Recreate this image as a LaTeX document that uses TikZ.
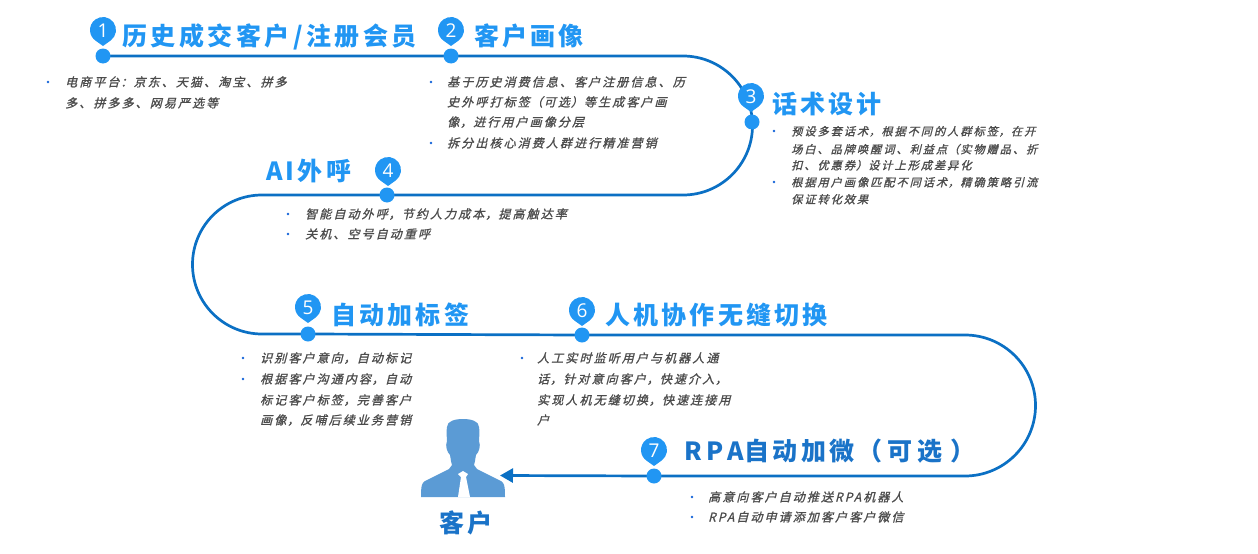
\documentclass[tikz,border=0pt]{standalone}
\usepackage{fontspec}
\usetikzlibrary{arrows.meta}
\newfontfamily\ttlfont{Noto Sans CJK SC}[LetterSpace=13]
\newfontfamily\ttlwide{Noto Sans CJK SC}[LetterSpace=14]
\newfontfamily\ttlrpa{Noto Sans CJK SC}[LetterSpace=20]
\newfontfamily\bodyfont{Noto Sans CJK SC}[FakeSlant=0.25,FakeBold=1.2,LetterSpace=17.5]
\newfontfamily\digitfont{Open Sans}
\definecolor{pathblue}{HTML}{0B70C4}
\definecolor{pinblue}{HTML}{2196F3}
\definecolor{darkttl}{HTML}{1A73C8}
\definecolor{bodygray}{HTML}{4C4C4C}
\definecolor{bulletblue}{HTML}{1565D8}
\definecolor{personblue}{HTML}{5B9BD5}
\pgfdeclarelayer{lines}
\pgfsetlayers{lines,main}
\newcommand{\zc}{\makebox[1.175em][c]{，}}
\newcommand{\zd}{\makebox[1.175em][c]{：}}
\newcommand{\zl}{\makebox[1.175em][c]{（}}
\newcommand{\zr}{\makebox[1.175em][c]{）}}
\tikzset{
  x=1pt,y=-1pt,
  dotnode/.style={circle,fill=pinblue,minimum size=15pt,inner sep=0pt},
  pindigit/.style={text=white,inner sep=0pt,font=\digitfont\fontsize{19}{19}\selectfont},
  ttl/.style={anchor=base west,inner sep=0pt,text=pinblue,font=\ttlfont\bfseries\fontsize{25}{25}\selectfont},
  ttlone/.style={ttl,font=\ttlwide\bfseries\fontsize{25}{25}\selectfont},
  ttldark/.style={ttl,text=darkttl},
  ttlrpastyle/.style={ttl,text=darkttl,font=\ttlrpa\bfseries\fontsize{25}{25}\selectfont},
  bodyline/.style={anchor=base west,inner sep=0pt,text=bodygray,font=\bodyfont\fontsize{12}{12}\selectfont},
  bodyc/.style={bodyline,font=\bodyfont\fontsize{11.2}{11.2}\selectfont},
  bulletdot/.style={circle,fill=bulletblue,minimum size=2.6pt,inner sep=0pt},
  route/.style={draw=pathblue,line width=2.7pt,line join=round},
}
\newcommand{\pinmark}[4]{%
  \fill[pinblue] (#2,#3) ++(-54.3:13pt) arc[start angle=-54.3,end angle=234.3,radius=13pt] -- (#2,#3+16) -- cycle;
  \node[pindigit] (#1) at (#2,#3+0.5) {#4};
}
\newcommand{\bodyat}[5][bodyline]{\node[#1] (#2) at (#3,#4+4.5) {#5};}
\begin{document}
\begin{tikzpicture}
\useasboundingbox (0,0) rectangle (1258,554);

% stations
\node[dotnode] (d1) at (103,56) {};
\node[dotnode] (d2) at (451,56) {};
\node[dotnode] (d3) at (752,122) {};
\node[dotnode] (d4) at (387,195) {};
\node[dotnode] (d5) at (308,334) {};
\node[dotnode] (d6) at (582,335) {};
\node[dotnode] (d7) at (654,476) {};
\coordinate (arcA) at (683,56);
\coordinate (arcB) at (262,195);
\coordinate (arcC) at (965,335);
\coordinate (custTip) at (500,475.5);

\begin{pgfonlayer}{lines}
\draw[route] (d1.center) -- (d2.center) -- (arcA)
  arc[start angle=90,end angle=-90,radius=69.5pt]
  -- (d4.center) -- (arcB)
  arc[start angle=90,end angle=270,radius=69.5pt]
  -- (d5.center) -- (d6.center) -- (arcC)
  arc[start angle=90,end angle=-90,radius=70.5pt]
  -- (d7.center);
\draw[route,-{Triangle[length=13pt,width=14pt]}] (d7.center) -- (custTip);
\end{pgfonlayer}

% pins
\pinmark{p1}{103}{30}{1}
\pinmark{p2}{451}{30}{2}
\pinmark{p3}{751}{96}{3}
\pinmark{p4}{388}{170}{4}
\pinmark{p5}{308}{307}{5}
\pinmark{p6}{582}{310}{6}
\pinmark{p7}{654}{450}{7}

% titles
\node[ttlone] (t1) at (122,45) {历史成交客户/注册会员};
\node[ttl] (t2) at (474,45) {客户画像};
\node[ttl] (t3) at (772,113) {话术设计};
\node[ttl] (t4) at (266,180) {AI外呼};
\node[ttl] (t5) at (331,324) {自动加标签};
\node[ttl] (t6) at (605,324) {人机协作无缝切换};
\node[ttlrpastyle] (t7) at (684,460) {RPA{\ttlwide 自动加微}\kern3pt（可选\kern8pt）};
\node[ttldark] (t8) at (439,532) {客户};

% block 1
\node[bulletdot] (b1) at (48,82) {};
\bodyat{l1a}{65}{82}{电商平台\zd 京东、天猫、淘宝、拼多}
\bodyat{l1b}{65}{103}{多、拼多多、网易严选等}
% block 2
\node[bulletdot] (b2) at (431,82) {};
\bodyat{l2a}{447}{82}{基于历史消费信息、客户注册信息、历}
\bodyat{l2b}{447}{102}{史外呼打标签\zl 可选\zr 等生成客户画}
\bodyat{l2c}{447}{122}{像\zc 进行用户画像分层}
\node[bulletdot] (b2b) at (431,143) {};
\bodyat{l2d}{447}{143}{拆分出核心消费人群进行精准营销}
% block 3
\node[bulletdot] (b3) at (774,131) {};
\bodyat[bodyc]{l3a}{791}{131}{预设多套话术\zc 根据不同的人群标签\zc 在开}
\bodyat[bodyc]{l3b}{791}{149}{场白、品牌唤醒词、利益点\zl 实物赠品、折}
\bodyat[bodyc]{l3c}{791}{165}{扣、优惠券\zr 设计上形成差异化}
\node[bulletdot] (b3b) at (774,182) {};
\bodyat[bodyc]{l3d}{791}{182}{根据用户画像匹配不同话术\zc 精确策略引流}
\bodyat[bodyc]{l3e}{791}{199}{保证转化效果}
% block 4
\node[bulletdot] (b4) at (288,214) {};
\bodyat{l4a}{305}{214}{智能自动外呼\zc 节约人力成本\zc 提高触达率}
\node[bulletdot] (b4b) at (288,234) {};
\bodyat{l4b}{305}{234}{关机、空号自动重呼}
% block 5
\node[bulletdot] (b5) at (243,358) {};
\bodyat{l5a}{260}{358}{识别客户意向\zc 自动标记}
\node[bulletdot] (b5b) at (243,379) {};
\bodyat{l5b}{260}{379}{根据客户沟通内容\zc 自动}
\bodyat{l5c}{260}{400}{标记客户标签\zc 完善客户}
\bodyat{l5d}{260}{420}{画像\zc 反哺后续业务营销}
% block 6
\node[bulletdot] (b6) at (522,358) {};
\bodyat{l6a}{537}{358}{人工实时监听用户与机器人通}
\bodyat{l6b}{537}{379}{话\zc 针对意向客户\zc 快速介入\zc}
\bodyat{l6c}{537}{400}{实现人机无缝切换\zc 快速连接用}
\bodyat{l6d}{537}{420}{户}
% block 7
\node[bulletdot] (b7) at (692,497) {};
\bodyat{l7a}{708}{497}{高意向客户自动推送RPA机器人}
\node[bulletdot] (b7b) at (692,517) {};
\bodyat{l7b}{708}{517}{RPA自动申请添加客户客户微信}

% person
\fill[personblue] (463,419)
  .. controls (471,419) and (479,421) .. (479,427)
  .. controls (480,432) and (479,438) .. (479,441)
  .. controls (481,446) and (479,452) .. (476,455)
  .. controls (475,460) and (475,463) .. (474,465)
  -- (477,469) -- (501,481)
  .. controls (504,483) and (505,485) .. (505,497)
  -- (421,497)
  .. controls (421,485) and (422,483) .. (425,481)
  -- (449,469) -- (452,465)
  .. controls (451,463) and (451,460) .. (450,455)
  .. controls (447,452) and (445,446) .. (447,441)
  .. controls (447,438) and (446,432) .. (447,427)
  .. controls (447,421) and (455,419) .. (463,419) -- cycle;
\fill[white] (458,474) -- (463,471) -- (468,474) -- (466,477) -- (470,497) -- (458,497) -- (461,477) -- cycle;
\end{tikzpicture}
\end{document}
